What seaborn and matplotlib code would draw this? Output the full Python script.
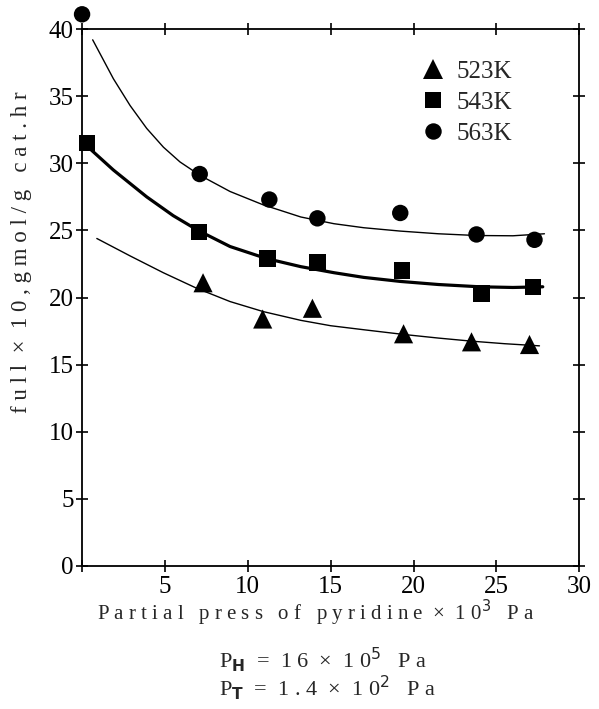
import pandas as pd
import matplotlib.pyplot as plt
import seaborn as sns
import numpy as np

x_523 = [7.3, 10.9, 13.9, 19.4, 23.5, 27.0]
y_523 = [21.1, 18.4, 19.2, 17.3, 16.7, 16.5]
x_543 = [0.3, 7.06, 11.2, 14.2, 19.3, 24.1, 27.2]
y_543 = [31.5, 24.9, 22.9, 22.6, 22.0, 20.3, 20.8]
x_563 = [0.0, 7.1, 11.3, 14.2, 19.2, 23.8, 27.3]
y_563 = [41.1, 29.2, 27.3, 25.9, 26.3, 24.7, 24.3]

# fitted curves
cx_523 = [0.89, 2.9, 4.9, 6.9, 8.93, 10.94, 13.2, 15.0, 17.0, 19.4, 21.5, 23.5, 25.5, 27.6]
cy_523 = [24.4, 23.1, 21.85, 20.7, 19.7, 18.95, 18.3, 17.9, 17.6, 17.25, 16.98, 16.75, 16.56, 16.4]
cx_543 = [0.28, 1.89, 3.9, 5.5, 7.0, 8.93, 11.14, 13.2, 15.2, 17.0, 19.2, 21.5, 24.0, 26.0, 27.8]
cy_543 = [31.3, 29.5, 27.5, 26.1, 25.0, 23.8, 22.9, 22.3, 21.85, 21.5, 21.2, 20.97, 20.8, 20.75, 20.8]
cx_563 = [0.64, 1.89, 2.9, 3.9, 4.91, 5.91, 7.12, 8.93, 10.94, 11.95, 13.2, 15.2, 17.0, 19.2, 21.5, 23.8, 26.0, 27.9]
cy_563 = [39.2, 36.3, 34.3, 32.6, 31.2, 30.1, 29.1, 27.9, 26.9, 26.5, 26.0, 25.5, 25.2, 24.95, 24.75, 24.62, 24.6, 24.75]

temps = ["523K", "543K", "563K"]

pts = pd.concat([
    pd.DataFrame({"x": x_523, "y": y_523, "T": "523K"}),
    pd.DataFrame({"x": x_543, "y": y_543, "T": "543K"}),
    pd.DataFrame({"x": x_563, "y": y_563, "T": "563K"}),
])

sns.set_style("ticks")
plt.rcParams['font.family'] = ['Liberation Serif', 'DejaVu Serif']

fig = plt.figure(figsize=(5.99, 7.09), dpi=100)
ax = fig.add_axes([0.137, 0.2017, 0.830, 0.7573])

# curves
sns.lineplot(x=cx_523, y=cy_523, color="black", lw=1.0, ax=ax, sort=False)
sns.lineplot(x=cx_543, y=cy_543, color="black", lw=2.3, ax=ax, sort=False)
sns.lineplot(x=cx_563, y=cy_563, color="black", lw=1.0, ax=ax, sort=False)

sns.scatterplot(data=pts, x="x", y="y", style="T", style_order=temps,
                size="T", sizes={"523K": 190, "543K": 140, "563K": 140},
                markers={"523K": "^", "543K": "s", "563K": "o"},
                color="black", edgecolor="black", linewidth=0,
                ax=ax, clip_on=False, zorder=5)

ax.set_xlim(0, 30)
ax.set_ylim(0, 40)
ax.set_xticks([0, 5, 10, 15, 20, 25, 30])
ax.set_xticklabels(["", "5", "10", "15", "20", "25", "30"])
ax.set_yticks(range(0, 45, 5))
ax.tick_params(direction="inout", length=8, width=1.2, labelsize=18,
               top=True, right=True, color="black", labelcolor="black")
ax.tick_params(axis="y", pad=2)
for sp in ax.spines.values():
    sp.set_linewidth(1.3)
    sp.set_color("black")

ax.set_xlabel("P a r t i a l   p r e s s   o f   p y r i d i n e  ×  1 0$^3$   P a",
              fontsize=15)
ax.xaxis.set_label_coords(0.47, -0.06)
ax.set_ylabel("f u l l  ×  1 0 , g m o l / g   c a t . h r", fontsize=16.5)
ax.yaxis.set_label_coords(-0.10, 0.585)

leg = ax.legend(loc="upper left", bbox_to_anchor=(0.661, 0.961), frameon=False,
                fontsize=18, handletextpad=0.45, handlelength=1.0,
                labelspacing=0.35, borderaxespad=0)

fig.text(0.366, 0.069, "P$_\\mathbf{H}$  =  1 6  ×  1 0$^5$   P a",
         ha="left", va="center", fontsize=16)
fig.text(0.366, 0.030, "P$_\\mathbf{T}$  =  1 . 4  ×  1 0$^2$   P a",
         ha="left", va="center", fontsize=16)

fig.savefig("out.png", dpi=100)
